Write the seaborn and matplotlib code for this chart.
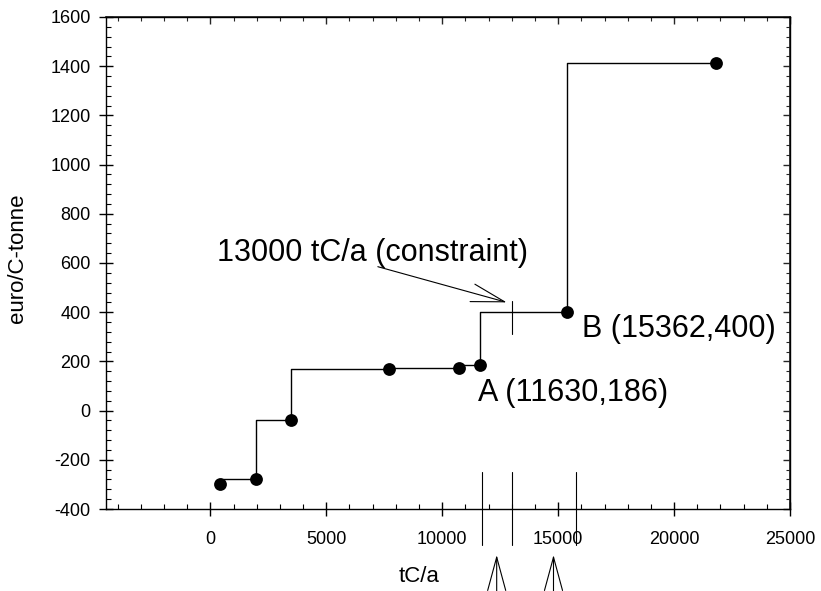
import matplotlib
matplotlib.use("Agg")
import matplotlib.pyplot as plt
from matplotlib.ticker import MultipleLocator
import seaborn as sns
import pandas as pd

# ---- data ----
emission_x = [400, 1950, 3500, 7700, 10730, 11630, 15362, 21800]
cost_y = [-300, -278, -38, 168, 172, 186, 400, 1413]

constraint_x = 13000
constraint_y = [313, 445]
bottom_marks_x = [11730, 13000, 15790]
bottom_marks_y = [-250, -548]
bottom_arrows_x = [12350, 14800]

label_constraint = "13000 tC/a (constraint)"
label_a = "A (11630,186)"
label_b = "B (15362,400)"
xlabel = "tC/a"
ylabel = "euro/C-tonne"

df = pd.DataFrame({"x": emission_x, "y": cost_y})

sns.set_theme(style="white")
plt.rcParams["font.family"] = ["Liberation Sans", "DejaVu Sans"]
plt.rcParams["axes.unicode_minus"] = False

fig = plt.figure(figsize=(8.21, 5.91), dpi=100)
ax = fig.add_axes([106 / 821, 1 - 509 / 591, 684 / 821, 492 / 591])

sns.lineplot(data=df, x="x", y="y", ax=ax, color="black", lw=1.0,
             drawstyle="steps-pre", sort=False, estimator=None)
sns.scatterplot(data=df, x="x", y="y", ax=ax, color="black", s=85,
                edgecolor="black", linewidth=0, zorder=3)

ax.set_xlim(-4500, 25000)
ax.set_ylim(-400, 1600)
ax.xaxis.set_major_locator(MultipleLocator(5000))
ax.xaxis.set_minor_locator(MultipleLocator(1000))
ax.yaxis.set_major_locator(MultipleLocator(200))
ax.yaxis.set_minor_locator(MultipleLocator(40))

for s in ax.spines.values():
    s.set_color("black")
    s.set_linewidth(1.0)

ax.tick_params(axis="both", which="major", direction="inout", length=10,
               width=1.0, color="black", labelsize=13, labelcolor="black")
ax.tick_params(axis="x", which="major", pad=11)
ax.tick_params(axis="y", which="major", pad=6)
ax.tick_params(axis="both", which="minor", direction="in", length=3.5,
               width=0.8, color="black")
ax.tick_params(bottom=True, left=True, which="both")

# top / right inward ticks
sec_x = ax.secondary_xaxis("top")
sec_x.xaxis.set_major_locator(MultipleLocator(5000))
sec_x.xaxis.set_minor_locator(MultipleLocator(1000))
sec_x.tick_params(which="major", direction="in", length=5, width=1.0, labeltop=False)
sec_x.tick_params(which="minor", direction="in", length=3, width=0.8)
sec_y = ax.secondary_yaxis("right")
sec_y.yaxis.set_major_locator(MultipleLocator(200))
sec_y.yaxis.set_minor_locator(MultipleLocator(40))
sec_y.tick_params(which="major", direction="in", length=5, width=1.0, labelright=False)
sec_y.tick_params(which="minor", direction="in", length=3, width=0.8)

ax.set_xlabel(xlabel, fontsize=16, color="black")
ax.set_ylabel(ylabel, fontsize=16, color="black")
ax.xaxis.set_label_coords((419 - 106) / 684, (509 - 577) / 492)
ax.xaxis.label.set_va("center")
ax.yaxis.set_label_coords((18 - 106) / 684, (509 - 258) / 492)
ax.yaxis.label.set_va("center")

# constraint line and annotation
ax.plot([constraint_x, constraint_x], constraint_y, color="black", lw=0.8)
ax.text(285, 610, label_constraint, fontsize=22, ha="left", va="baseline", color="black")
ax.annotate("", xy=(12780, 440), xytext=(7224, 585),
            arrowprops=dict(arrowstyle="->,head_length=2.4,head_width=0.65",
                            mutation_scale=10, lw=0.8, color="black",
                            shrinkA=0, shrinkB=0))

ax.text(11554, 38, label_a, fontsize=22, ha="left", va="baseline", color="black")
ax.text(16019, 298, label_b, fontsize=22, ha="left", va="baseline", color="black")

# marks below the axis
for bx in bottom_marks_x:
    ax.plot([bx, bx], bottom_marks_y, color="black", lw=0.8, clip_on=False)
for ax_x in bottom_arrows_x:
    ax.annotate("", xy=(ax_x, -587), xytext=(ax_x, -760),
                annotation_clip=False,
                arrowprops=dict(arrowstyle="->,head_length=2.4,head_width=0.65",
                                mutation_scale=10, lw=0.8, color="black",
                                shrinkA=0, shrinkB=0, clip_on=False))

fig.savefig("out.png", dpi=100, facecolor="white")
